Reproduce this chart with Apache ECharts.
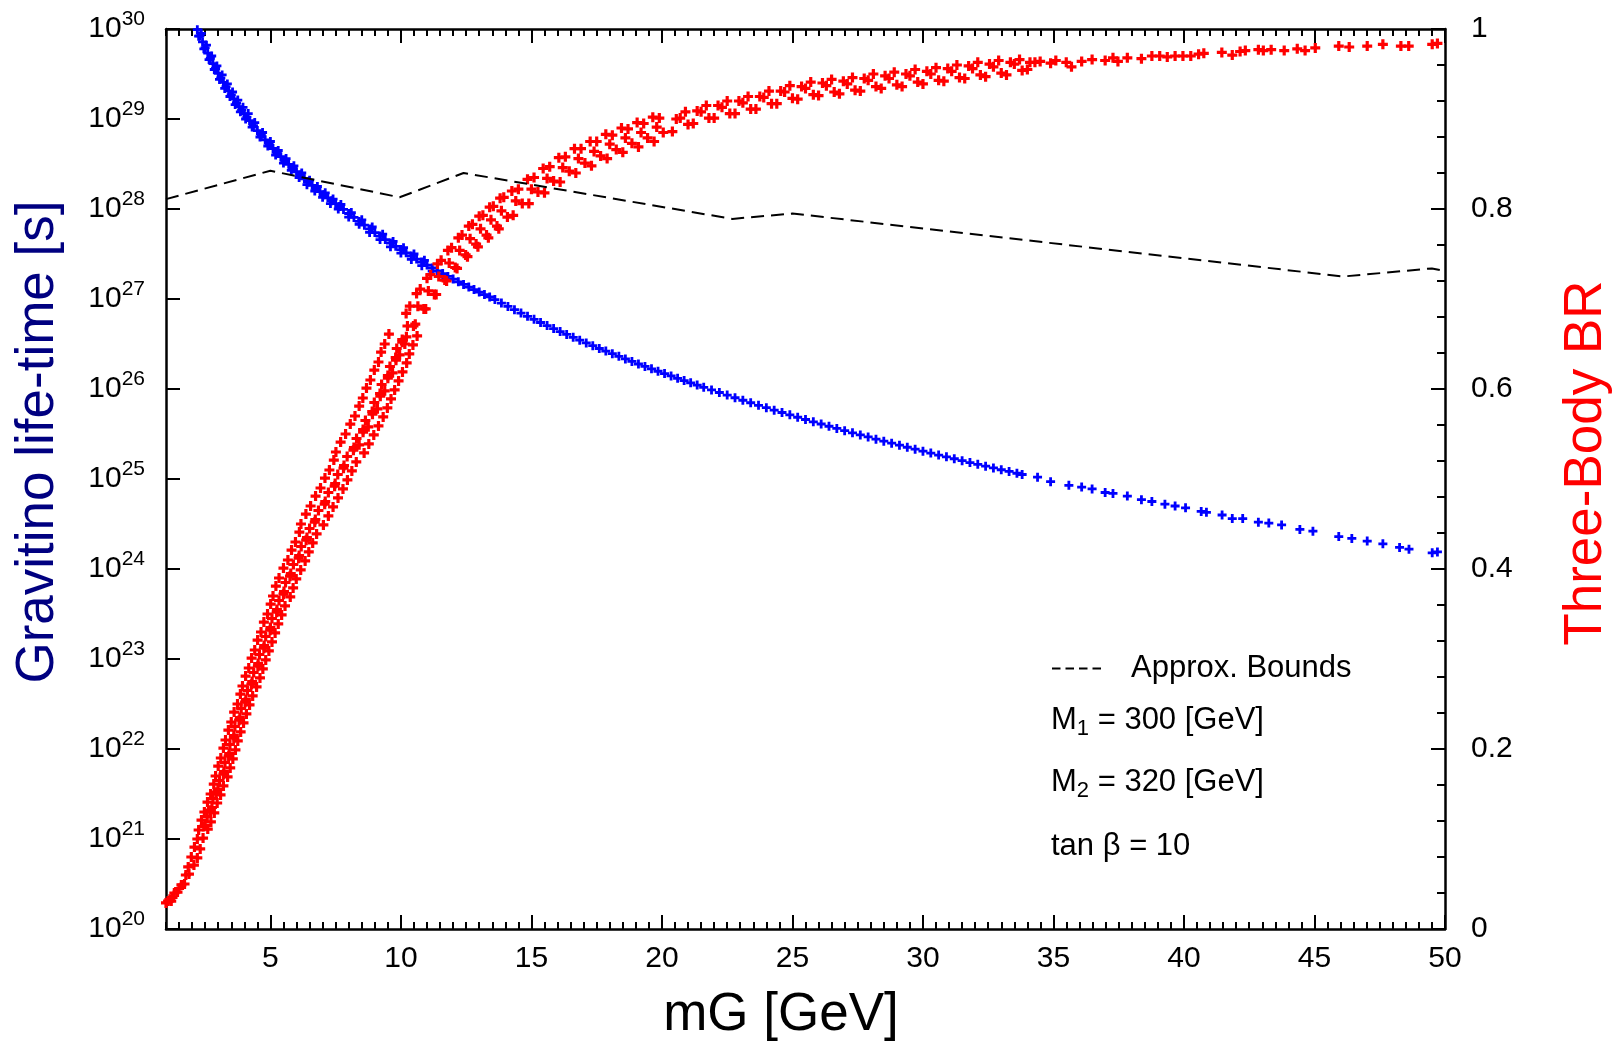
<!DOCTYPE html>
<html>
<head>
<meta charset="utf-8">
<title>Gravitino life-time / Three-Body BR</title>
<script src="https://cdn.jsdelivr.net/npm/echarts@6/dist/echarts.min.js"></script>
<style>
html, body { margin: 0; padding: 0; background: #fff; }
#chart { width: 1618px; height: 1042px; }
</style>
</head>
<body>
<div id="chart"></div>
<script>
// x = gravitino mass mG [GeV]
const xMajor = [5, 10, 15, 20, 25, 30, 35, 40, 45, 50];
const yDecades = [1e20, 1e21, 1e22, 1e23, 1e24, 1e25, 1e26, 1e27, 1e28, 1e29, 1e30];

// gravitino life-time, [mG, log10(tau/s)]
const lifeSteep = [[2.2,29.993],[2.3,29.923],[2.4,29.857],[2.5,29.793],[2.6,29.732],[2.7,29.673],[2.8,29.616],[2.9,29.561],[3.0,29.508],[3.1,29.457],[3.2,29.407],[3.3,29.359],[3.4,29.312],[3.5,29.267],[3.6,29.223],[3.7,29.18],[3.8,29.138],[3.9,29.098],[4.0,29.058],[4.1,29.02],[4.2,28.981],[4.35,28.925],[4.5,28.871],[4.65,28.819],[4.8,28.769],[4.95,28.72],[5.1,28.672],[5.25,28.626],[5.4,28.581],[5.55,28.538],[5.7,28.496],[5.85,28.454],[6.0,28.414],[6.15,28.375],[6.3,28.336],[6.45,28.299],[6.6,28.263],[6.75,28.227],[6.9,28.192],[7.05,28.158],[7.2,28.124],[7.35,28.092],[7.5,28.059],[7.65,28.028]];
const lifeEdge = [[2.35,29.95],[2.55,29.82],[2.75,29.7],[2.95,29.59],[3.15,29.49],[3.35,29.39],[3.55,29.3],[3.75,29.21],[3.95,29.13],[4.15,29.06],[4.4,28.96],[4.7,28.85],[5.0,28.75],[5.3,28.65],[5.6,28.56],[5.9,28.48],[6.2,28.4],[6.5,28.32],[6.8,28.25],[7.1,28.18],[7.4,28.11],[7.7,28.05],[8.1,27.96],[8.5,27.88],[8.9,27.8],[9.3,27.72],[9.7,27.64],[10.1,27.57],[10.5,27.5],[10.9,27.43]];
const lifeInner = [[2.25,29.92],[2.45,29.78],[2.65,29.66],[2.85,29.55],[3.05,29.44],[3.25,29.34],[3.45,29.25],[3.65,29.16],[3.85,29.08],[4.05,29.0],[4.3,28.91],[4.6,28.8],[4.9,28.7],[5.2,28.6],[5.5,28.51],[5.8,28.43],[6.1,28.35],[6.4,28.27],[6.7,28.2],[7.0,28.13],[7.3,28.06],[7.6,28.0],[8.0,27.91],[8.4,27.83],[8.8,27.74],[9.2,27.66],[9.6,27.58],[10.0,27.51],[10.4,27.44],[10.8,27.37],[11.2,27.31],[11.6,27.25]];
const lifeMid = [[7.8,27.995],[8.0,27.95],[8.2,27.906],[8.4,27.862],[8.6,27.82],[8.8,27.779],[9.0,27.738],[9.2,27.699],[9.4,27.66],[9.6,27.622],[9.8,27.585],[10.0,27.549],[10.2,27.513],[10.4,27.478],[10.6,27.444],[10.8,27.41],[11.0,27.377],[11.2,27.345],[11.4,27.313],[11.6,27.282],[11.8,27.251],[12.0,27.221],[12.2,27.191],[12.4,27.162],[12.6,27.133],[12.8,27.105],[13.0,27.077],[13.2,27.049],[13.4,27.023],[13.6,26.994],[13.85,26.955],[14.1,26.918],[14.35,26.881],[14.6,26.844],[14.85,26.808],[15.1,26.774],[15.35,26.739],[15.6,26.705],[15.85,26.671],[16.1,26.638],[16.35,26.606],[16.6,26.574],[16.85,26.543],[17.1,26.512],[17.35,26.481],[17.6,26.45],[17.85,26.421],[18.1,26.392],[18.35,26.363],[18.6,26.334],[18.85,26.306],[19.1,26.278],[19.35,26.251],[19.6,26.224],[19.85,26.197],[20.1,26.171],[20.35,26.145],[20.6,26.119],[20.85,26.094],[21.1,26.069],[21.35,26.044],[21.6,26.019]];
const lifeLate = [[21.9,25.99],[22.2,25.961],[22.5,25.932],[22.8,25.903],[23.1,25.875],[23.4,25.847],[23.7,25.819],[24.0,25.792],[24.3,25.765],[24.6,25.739],[24.9,25.713],[25.2,25.686],[25.5,25.661],[25.8,25.635],[26.1,25.611],[26.4,25.586],[26.7,25.562],[27.0,25.537],[27.3,25.513],[27.6,25.49],[27.9,25.467],[28.2,25.443],[28.5,25.42],[28.8,25.398],[29.1,25.376],[29.4,25.353],[29.7,25.331],[30.0,25.309],[30.3,25.288],[30.6,25.266],[30.9,25.246],[31.2,25.225],[31.5,25.204],[31.8,25.183],[32.1,25.163],[32.4,25.143],[32.7,25.123],[33.0,25.103],[33.3,25.084],[33.6,25.064]];
const lifeTail = [[33.8,25.05],[34.39,25.02],[34.89,24.97],[35.59,24.93],[36.08,24.91],[36.48,24.89],[36.98,24.85],[37.28,24.84],[37.83,24.81],[38.37,24.77],[38.77,24.75],[39.27,24.72],[39.66,24.7],[40.06,24.68],[40.66,24.64],[40.86,24.63],[41.46,24.6],[41.85,24.56],[42.25,24.56],[42.85,24.52],[43.25,24.51],[43.74,24.49],[44.44,24.44],[44.94,24.42],[45.93,24.36],[46.43,24.34],[47.02,24.31],[47.62,24.28],[48.26,24.24],[48.62,24.22],[49.51,24.18],[49.71,24.19]];

// three-body branching ratio, [mG, BR]
const brFoot = [[1.0,0.029],[1.08,0.031],[1.15,0.033],[1.2,0.031],[1.25,0.035],[1.32,0.04],[1.44,0.041],[1.5,0.045],[1.59,0.049],[1.71,0.05],[1.76,0.06],[1.88,0.061],[1.85,0.069],[2.07,0.071],[1.97,0.08],[2.2,0.079],[2.09,0.091],[2.31,0.089],[2.2,0.1],[2.42,0.101]];
const brRise = [[2.25,0.11],[2.6,0.111],[2.45,0.114],[2.36,0.121],[2.72,0.119],[2.47,0.13],[2.7,0.132],[2.85,0.129],[2.59,0.141],[2.96,0.14],[2.71,0.15],[2.92,0.152],[3.09,0.149],[2.83,0.161],[3.2,0.159],
  [2.9,0.17],[3.2,0.172],[3.36,0.169],[3.0,0.181],[3.46,0.179],[3.1,0.19],[3.4,0.192],[3.56,0.189],[3.2,0.201],[3.66,0.199],[3.28,0.21],[3.6,0.212],[3.75,0.209],[3.39,0.221],[3.86,0.219],[3.5,0.23],[3.8,0.232],[3.97,0.229],[3.61,0.241],[4.08,0.239],[3.74,0.25],[4.03,0.252],[4.2,0.249],[3.85,0.261],[4.32,0.259],
  [3.93,0.27],[4.27,0.272],[4.47,0.269],[4.05,0.281],[4.6,0.279],[4.17,0.29],[4.52,0.292],[4.71,0.289],[4.28,0.301],[4.82,0.299],[4.4,0.31],[4.75,0.312],[4.94,0.309],[4.51,0.321],[5.06,0.319],[4.64,0.33],[4.99,0.332],[5.18,0.329],[4.75,0.341],[5.3,0.339],[4.89,0.35],[5.24,0.352],[5.43,0.349],[5.01,0.361],[5.56,0.359],
  [5.1,0.37],[5.5,0.372],[5.76,0.369],[5.21,0.381],[5.87,0.379],[5.33,0.39],[5.75,0.392],[5.99,0.389],[5.5,0.401],[6.16,0.399],[5.67,0.41],[6.08,0.412],[6.33,0.409],[5.81,0.421],[6.47,0.419],[5.96,0.43],[6.37,0.432],[6.62,0.429],[6.11,0.441],[6.77,0.439],
  [6.17,0.45],[6.7,0.452],[7.03,0.449],[6.36,0.461],[7.22,0.459],[6.54,0.47],[7.08,0.472],[7.4,0.469],[6.73,0.481],[7.59,0.479],[6.92,0.49],[7.46,0.492],[7.78,0.489],[7.09,0.501],[7.95,0.499],[7.26,0.51],[7.8,0.512],[8.12,0.509],[7.43,0.521],[8.29,0.519],
  [7.51,0.53],[8.18,0.532],[8.59,0.529],[7.69,0.541],[8.4,0.538],[8.77,0.539],[7.88,0.55],[8.55,0.552],[8.96,0.549],[8.06,0.561],[8.75,0.558],[9.14,0.559],[8.24,0.57],[8.91,0.572],[9.32,0.569],[8.4,0.581],[9.1,0.578],[9.48,0.579],[8.54,0.59],[9.21,0.592],[9.62,0.589],[8.68,0.601],[9.38,0.598],[9.76,0.599],[8.83,0.61],[9.5,0.612],[9.91,0.609],[8.98,0.621],[9.68,0.618],[10.06,0.619],[9.14,0.63],[9.81,0.632],[10.22,0.629],[9.24,0.641],[9.95,0.638],[10.32,0.639],[9.38,0.65],[10.05,0.652],[10.46,0.649],[9.54,0.661],[10.21,0.658],[10.62,0.659]];
const brRiseMid = [[2.5,0.115],[2.58,0.125],[2.76,0.135],[2.8,0.145],[2.99,0.155],[3.05,0.165],[3.22,0.175],[3.26,0.185],[3.42,0.195],[3.45,0.205],[3.6,0.215],[3.64,0.225],[3.83,0.235],[3.88,0.245],[4.06,0.255],[4.12,0.265],[4.3,0.275],[4.36,0.285],[4.53,0.295],[4.58,0.305],[4.76,0.315],[4.82,0.325],[5.0,0.335],[5.06,0.345],[5.25,0.355],[5.33,0.365],[5.52,0.375],[5.58,0.385],[5.78,0.395],[5.88,0.405],[6.1,0.415],[6.18,0.425],[6.4,0.435],[6.5,0.445],[6.72,0.455],[6.84,0.465],[7.1,0.475],[7.22,0.485],[7.48,0.495],[7.58,0.505],[7.82,0.515],[7.94,0.525],[8.2,0.535],[8.3,0.545],[8.55,0.555],[8.64,0.565],[8.9,0.575],[8.98,0.585],[9.2,0.595],[9.26,0.605],[9.5,0.615],[9.58,0.625],[9.8,0.635],[9.84,0.645],[10.05,0.655]];
const brKnee = [[10.15,0.65],[10.25,0.67],[10.2,0.684],[10.48,0.67],[10.34,0.692],[10.55,0.672],[10.65,0.692],[10.6,0.706],[10.88,0.689],[10.74,0.711],[10.95,0.689],[11.05,0.709],[11.0,0.723],[11.28,0.705],[11.14,0.727],[11.35,0.705],[11.45,0.725],[11.4,0.739],[11.68,0.721],[11.54,0.743],[11.75,0.72],[11.85,0.74],[11.8,0.754],[12.08,0.735],[11.94,0.757],[12.15,0.734],[12.25,0.754],[12.2,0.768],[12.48,0.749],[12.34,0.771],[12.55,0.747],[12.65,0.767],[12.6,0.781],[12.88,0.761],[12.74,0.783],[12.95,0.758],[13.05,0.778],[13.0,0.792],[13.28,0.771],[13.14,0.793],[13.35,0.768],[13.45,0.788],[13.4,0.802],[13.68,0.781],[13.54,0.803],[13.75,0.778],[13.85,0.798],[13.8,0.812],[14.08,0.791],[13.94,0.813]];
const brShoulder = [[14.3,0.793],[14.4,0.809],[14.25,0.82],[14.65,0.806],[14.5,0.822],[14.9,0.806],[15.0,0.822],[14.85,0.833],[15.25,0.819],[15.1,0.835],[15.5,0.818],[15.6,0.834],[15.45,0.845],[15.85,0.831],[15.7,0.847],[16.1,0.83],[16.2,0.846],[16.05,0.857],[16.45,0.842],[16.3,0.858],[16.7,0.84],[16.8,0.856],[16.65,0.867],[17.05,0.851],[16.9,0.867],[17.3,0.848],[17.4,0.864],[17.25,0.875],[17.65,0.859],[17.5,0.875],[17.9,0.856],[18.0,0.872],[17.85,0.883],[18.25,0.866],[18.1,0.882],[18.5,0.863],[18.6,0.879],[18.45,0.89],[18.85,0.873],[18.7,0.889],[19.1,0.869],[19.2,0.885],[19.05,0.896],[19.45,0.879],[19.3,0.895],[19.7,0.875],[19.8,0.891],[19.65,0.902],[20.05,0.885],[19.9,0.901]];
const brPlateau = [[20.4,0.886],[20.55,0.9],[20.7,0.901],[20.9,0.908],[21.0,0.894],[21.2,0.895],[21.35,0.909],[21.5,0.908],[21.7,0.915],[21.8,0.901],[22.0,0.901],[22.15,0.915],[22.3,0.913],[22.5,0.92],[22.6,0.906],[22.8,0.906],[22.95,0.92],[23.1,0.918],[23.3,0.925],[23.4,0.911],[23.6,0.911],[23.75,0.925],[23.9,0.924],[24.1,0.931],[24.2,0.917],[24.4,0.917],[24.55,0.931],[24.7,0.93],[24.9,0.937],[25.0,0.923],[25.2,0.922],[25.35,0.936],[25.5,0.934],[25.7,0.941],[25.8,0.927],[26.0,0.926],[26.15,0.94],[26.3,0.937],[26.5,0.944],[26.6,0.93],[26.8,0.928],[26.95,0.942],[27.1,0.939],[27.3,0.946],[27.4,0.932],[27.6,0.931],[27.75,0.945],[27.9,0.943],[28.1,0.95],[28.2,0.936],[28.4,0.934],[28.55,0.948],[28.7,0.945],[28.9,0.952],[29.0,0.938],[29.2,0.936],[29.35,0.95],[29.5,0.948],[29.7,0.955],[29.8,0.941],[30.0,0.939],[30.15,0.953],[30.3,0.95],[30.5,0.957],[30.6,0.943],[30.8,0.942],[30.95,0.956],[31.1,0.953],[31.3,0.96],[31.4,0.946],[31.6,0.945],[31.75,0.959],[31.9,0.956],[32.1,0.963],[32.2,0.949],[32.4,0.947],[32.55,0.961],[32.7,0.958],[32.9,0.965],[33.0,0.951],[33.2,0.949],[33.35,0.963],[33.5,0.961],[33.7,0.966],[33.8,0.954],[34.0,0.955],[34.1,0.963]];
const brTail = [[34.29,0.963],[34.49,0.964],[34.89,0.962],[35.09,0.965],[35.49,0.963],[35.69,0.958],[36.08,0.964],[36.48,0.966],[36.98,0.965],[37.28,0.968],[37.47,0.964],[37.83,0.968],[38.37,0.967],[38.77,0.97],[39.07,0.97],[39.36,0.969],[39.66,0.97],[39.96,0.97],[40.26,0.97],[40.56,0.972],[40.76,0.973],[41.45,0.974],[41.85,0.971],[42.15,0.975],[42.35,0.976],[42.85,0.977],[43.04,0.976],[43.34,0.977],[43.84,0.976],[44.34,0.978],[44.64,0.976],[45.03,0.979],[45.93,0.981],[46.33,0.98],[47.02,0.981],[47.62,0.983],[48.31,0.981],[48.61,0.981],[49.51,0.983],[49.71,0.984]];

// approximate bounds (dashed), log10(tau/s)
const boundMass = [1, 5, 9.95, 12.4, 22.7, 25, 46.1, 49.5, 50];
const boundLog = [28.11, 28.425, 28.13, 28.4, 27.89, 27.95, 27.25, 27.34, 27.31];

const FONT = '"Liberation Sans", Arial, Helvetica, sans-serif';
const CROSS_BLUE = 'path://M3.1,0H5.9V3.1H9V5.9H5.9V9H3.1V5.9H0V3.1H3.1Z';
const CROSS_RED = 'path://M3.4,0H6.6V3.4H10V6.6H6.6V10H3.4V6.6H0V3.4H3.4Z';
const DASHES = 'path://M0,0H8.5V2H0Z M13.5,0H22V2H13.5Z M27,0H35.5V2H27Z M40.5,0H49V2H40.5Z';

const lifeData = lifeSteep.concat(lifeEdge, lifeInner, lifeMid, lifeLate, lifeTail).map(p => [p[0], Math.pow(10, p[1])]);
const brData = brFoot.concat(brRise, brRiseMid, brKnee, brShoulder, brPlateau, brTail);
const boundData = boundMass.map((m, i) => [m, Math.pow(10, boundLog[i])]);

const myChart = echarts.init(document.getElementById('chart'), null, { renderer: 'canvas' });

const axisLine = { show: true, onZero: false, lineStyle: { color: '#000', width: 2.5 } };
const tickLine = { color: '#000', width: 2 };

function xAxisCfg(pos, major) {
  const cfg = {
    type: 'value', position: pos, min: 1, max: 50,
    axisLine: major ? { show: false, onZero: false } : axisLine,
    splitLine: { show: false },
    axisLabel: { show: false }
  };
  if (major) {
    cfg.axisTick = { show: true, inside: true, length: 14, lineStyle: tickLine, customValues: xMajor };
    if (pos === 'bottom') {
      cfg.axisLabel = { show: true, customValues: xMajor, margin: 15, color: '#000', fontSize: 30, fontFamily: FONT };
    }
  } else {
    cfg.interval = 0.5;
    cfg.axisTick = { show: true, inside: true, length: 7, lineStyle: tickLine };
  }
  return cfg;
}

const subRich = {
  n: { fontSize: 31, fontFamily: FONT, fill: '#000' },
  s: { fontSize: 22, fontFamily: FONT, fill: '#000', padding: [17, 0, 0, 0] }
};

const option = {
  animation: false,
  backgroundColor: '#fff',
  grid: { left: 166, top: 29, width: 1279, height: 900, containLabel: false, outerBoundsMode: 'none' },
  legend: {
    left: 1052, top: 653, padding: 0,
    itemWidth: 49, itemHeight: 2,
    selectedMode: false,
    itemStyle: { borderWidth: 0 },
    data: [{ name: 'Approx. Bounds', icon: DASHES }],
    textStyle: { color: '#000', fontSize: 31, fontFamily: FONT, lineHeight: 30, padding: [0, 0, 0, 25] }
  },
  xAxis: [
    xAxisCfg('bottom', false),
    xAxisCfg('bottom', true),
    xAxisCfg('top', false),
    xAxisCfg('top', true)
  ],
  yAxis: [
    {
      type: 'log', logBase: 10, position: 'left', min: 1e20, max: 1.000001e30, splitNumber: 10,
      axisLine: axisLine,
      splitLine: { show: false },
      axisTick: { show: true, inside: true, length: 14, lineStyle: tickLine, customValues: yDecades },
      axisLabel: {
        customValues: yDecades,
        margin: 21,
        formatter: function (v) { return '{b|10}{e|' + Math.round(Math.log10(v)) + '}'; },
        rich: {
          b: { fontSize: 30, fontFamily: FONT, color: '#000' },
          e: { fontSize: 21, fontFamily: FONT, color: '#000', padding: [0, 0, 20, 0] }
        }
      }
    },
    {
      type: 'value', position: 'right', min: 0, max: 1, interval: 0.2,
      axisLine: axisLine,
      splitLine: { show: false },
      axisTick: { show: true, inside: true, length: 14, lineStyle: tickLine },
      minorTick: { show: true, splitNumber: 5, length: 8, lineStyle: tickLine },
      minorSplitLine: { show: false },
      axisLabel: {
        margin: 26, color: '#000', fontSize: 30, fontFamily: FONT,
        formatter: function (v) { return (v === 0 || v === 1) ? String(v) : v.toFixed(1); }
      }
    }
  ],
  series: [
    {
      name: 'Gravitino life-time',
      type: 'scatter', xAxisIndex: 0, yAxisIndex: 0,
      symbol: CROSS_BLUE, symbolSize: 9,
      itemStyle: { color: '#0000ff', opacity: 1 },
      data: lifeData
    },
    {
      name: 'Approx. Bounds',
      type: 'line', xAxisIndex: 0, yAxisIndex: 0,
      symbol: 'none', color: '#000',
      lineStyle: { color: '#000', width: 2, type: [13, 7] },
      data: boundData
    },
    {
      name: 'Three-Body BR',
      type: 'scatter', xAxisIndex: 0, yAxisIndex: 1,
      symbol: CROSS_RED, symbolSize: 10,
      itemStyle: { color: '#ff0000', opacity: 1 },
      data: brData
    }
  ],
  graphic: [
    {
      type: 'text', x: 781, y: 1015,
      style: { text: 'mG [GeV]', font: '53px ' + FONT, fill: '#000', align: 'center', verticalAlign: 'middle' }
    },
    {
      type: 'text', x: 38, y: 442, rotation: Math.PI / 2,
      style: { text: 'Gravitino life-time [s]', font: '53px ' + FONT, fill: '#000080', align: 'center', verticalAlign: 'middle' }
    },
    {
      type: 'text', x: 1586, y: 463, rotation: Math.PI / 2,
      style: { text: 'Three-Body BR', font: '53px ' + FONT, fill: '#ff0000', align: 'center', verticalAlign: 'middle' }
    },
    {
      type: 'text', x: 1051, y: 720,
      style: { text: '{n|M}{s|1}{n| = 300 [GeV]}', align: 'left', verticalAlign: 'middle', rich: subRich }
    },
    {
      type: 'text', x: 1051, y: 782,
      style: { text: '{n|M}{s|2}{n| = 320 [GeV]}', align: 'left', verticalAlign: 'middle', rich: subRich }
    },
    {
      type: 'text', x: 1051, y: 846,
      style: { text: 'tan \u03b2 = 10', font: '31px ' + FONT, fill: '#000', align: 'left', verticalAlign: 'middle' }
    }
  ]
};

myChart.setOption(option);
</script>
</body>
</html>
